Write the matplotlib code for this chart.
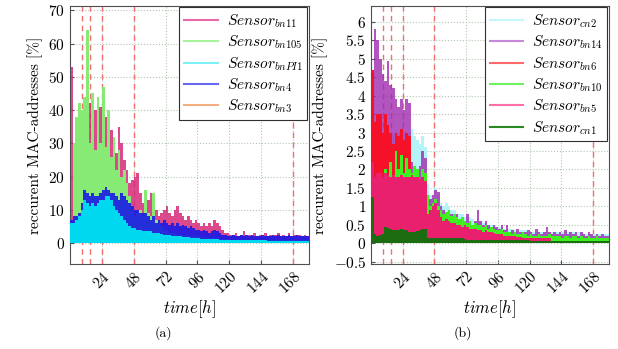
import numpy as np
import matplotlib
matplotlib.use("Agg")
import matplotlib.pyplot as plt
from matplotlib.lines import Line2D
from matplotlib.ticker import FuncFormatter

plt.rcParams['font.family'] = 'cmr10'
plt.rcParams['mathtext.fontset'] = 'cm'
plt.rcParams['axes.formatter.use_mathtext'] = True

# 2 hour bins, start hour of each bin
hours = np.arange(0, 180, 2)
events = [9, 15, 24, 48, 168]          # red dashed markers
xticks = [24, 48, 72, 96, 120, 144, 168]

# ---------------- panel (a) ----------------
bn11 = [53, 14, 10, 8, 12, 20, 38, 42, 40, 40,
        38, 41, 40, 38, 36, 34, 30, 27, 35, 30,
        25, 22, 18, 19, 20, 21, 15, 12, 14, 13,
        15, 12, 10, 8, 9, 10, 11, 9, 8, 10,
        11, 9, 8, 7, 8, 7, 6, 7, 6, 5,
        6, 5, 6, 5, 7, 6, 5, 4, 3, 3,
        2.5, 2.5, 3, 2, 2.5, 3.5, 2, 2.5, 2, 3,
        2, 2.5, 2, 3, 2, 2.5, 2, 2.5, 3, 2,
        2.5, 2, 3, 2, 2.5, 2, 2.5, 2, 2.5, 2]
bn105 = [0, 30, 38, 42, 40, 44, 64, 30, 45, 28,
         44, 30, 47, 29, 40, 26, 32, 22, 28, 20,
         22, 18, 14, 10, 8, 9, 10, 8, 16, 9,
         8, 15, 7, 6, 5, 4, 4, 3, 3, 3,
         2.5, 2.5, 2.5, 2, 2, 2, 2, 2, 1.8, 1.8,
         1.8, 1.5, 1.5, 1.5, 1.5, 1.5, 1.2, 1.2, 1.2, 1.2,
         1, 1, 1, 1, 1, 1, 1, 1, 1, 1,
         1, 1, 1, 1, 1, 1, 1, 1, 1, 1,
         1, 1, 1, 1, 1, 1, 1, 1, 1, 1]
bnPI1 = [6, 6, 7, 8, 10, 13, 12, 11, 12, 11,
         12, 13, 13, 14, 14, 13, 11, 10, 9, 8,
         7, 6, 5, 4.5, 4.5, 4, 4, 3.5, 3.5, 3.5,
         3.5, 3, 3, 3, 2.8, 2.5, 2.5, 2.3, 2.2, 2.2,
         2, 2, 1.8, 1.8, 1.7, 1.6, 1.5, 1.5, 1.4, 1.3,
         1.3, 1.2, 1.2, 1.2, 1.1, 1.1, 1.0, 1.0, 1.0, 1.0,
         0.9, 0.9, 0.9, 0.9, 0.9, 0.8, 0.8, 0.8, 0.8, 0.8,
         0.8, 0.8, 0.8, 0.8, 0.7, 0.7, 0.7, 0.7, 0.7, 0.7,
         0.7, 0.7, 0.7, 0.7, 0.7, 0.7, 0.7, 0.7, 0.7, 0.7]
bn4 = [7, 8, 8, 9, 12, 16, 15, 14, 15, 14,
       14, 15, 16, 17, 16, 15, 15, 14, 13, 15,
       14, 13, 12, 11, 10, 10, 9, 9, 9, 8,
       7, 8, 6, 7, 6, 7, 6, 5.5, 6, 5,
       6, 5, 5.5, 5, 4.5, 5, 4.5, 4, 4, 3.5,
       4, 3.5, 3, 3.5, 4, 3.5, 3, 2.5, 2.5, 2,
       2, 2.5, 2, 2.2, 2.5, 2, 2.3, 2, 2.5, 2,
       2.2, 2, 2.5, 2, 2.2, 2, 2.5, 2, 2.3, 2,
       2.2, 2, 2.5, 2, 2, 2.3, 2, 2.2, 2, 2]
bn3 = [3, 3, 4, 4, 5, 5, 5, 5, 5, 5,
       5, 5, 5, 5, 5, 4, 4, 4, 4, 3,
       3, 3, 3, 2.5, 2.5, 2.5, 2, 2, 2, 2,
       2, 2, 1.8, 1.8, 1.5, 1.5, 1.5, 1.5, 1.2, 1.2,
       1.2, 1.2, 1, 1, 1, 1, 1, 1, 1, 0.9,
       0.9, 0.9, 0.8, 0.8, 0.8, 0.8, 0.8, 0.7, 0.7, 0.7,
       0.7, 0.7, 0.7, 0.6, 0.6, 0.6, 0.6, 0.6, 0.6, 0.6,
       0.6, 0.6, 0.5, 0.5, 0.5, 0.5, 0.5, 0.5, 0.5, 0.5,
       0.5, 0.5, 0.5, 0.5, 0.5, 0.5, 0.5, 0.5, 0.5, 0.5]

# ---------------- panel (b) ----------------
cn2 = [2.5, 3.0, 3.0, 3.0, 3.0, 3.0, 3.0, 3.0, 3.0, 3.0,
       3.0, 3.0, 3.0, 3.0, 3.0, 3.1, 2.9, 2.8, 2.7, 2.9,
       2.6, 1.6, 1.3, 1.2, 1.5, 1.3, 1.1, 1.0, 1.1, 1.0,
       0.9, 0.9, 0.8, 0.8, 0.8, 0.7, 0.75, 0.7, 0.65, 0.6,
       0.6, 0.6, 0.55, 0.55, 0.5, 0.5, 0.5, 0.45, 0.45, 0.45,
       0.4, 0.4, 0.4, 0.4, 0.35, 0.35, 0.35, 0.35, 0.35, 0.3,
       0.3, 0.3, 0.3, 0.3, 0.3, 0.3, 0.3, 0.3, 0.3, 0.3,
       0.3, 0.3, 0.3, 0.3, 0.3, 0.3, 0.3, 0.3, 0.3, 0.3,
       0.25, 0.25, 0.25, 0.25, 0.25, 0.25, 0.25, 0.25, 0.25, 0.25]
bn14 = [3.0, 5.8, 5.5, 5.0, 4.6, 4.4, 4.95, 4.3, 4.2, 3.9,
        3.7, 3.9, 3.6, 3.9, 3.8, 2.2, 2.0, 1.9, 2.1, 2.5,
        2.3, 1.0, 1.2, 1.3, 1.45, 1.4, 1.0, 0.9, 0.8, 0.9,
        0.8, 0.7, 0.8, 0.6, 0.7, 0.6, 0.8, 0.6, 0.5, 0.6,
        0.9, 0.6, 0.5, 0.6, 0.5, 0.4, 0.5, 0.45, 0.4, 0.5,
        0.35, 0.5, 0.3, 0.35, 0.3, 0.4, 0.3, 0.25, 0.3, 0.35,
        0.3, 0.25, 0.4, 0.3, 0.25, 0.3, 0.45, 0.3, 0.25, 0.3,
        0.25, 0.3, 0.25, 0.35, 0.25, 0.3, 0.25, 0.3, 0.2, 0.3,
        0.25, 0.2, 0.3, 0.25, 0.2, 0.25, 0.2, 0.25, 0.2, 0.2]
bn6 = [4.7, 3.3, 3.5, 3.5, 3.0, 3.5, 3.2, 3.0, 2.7, 3.0,
       2.9, 3.1, 2.8, 3.0, 2.9]
bn10 = [1.0, 0.8, 0.9, 1.2, 1.5, 2.0, 1.6, 2.2, 1.8, 2.5,
        2.0, 2.4, 1.9, 2.3, 2.0, 1.9, 2.1, 2.0, 1.6, 2.0,
        1.9, 1.3, 1.0, 1.1, 1.2, 1.0, 0.9, 0.8, 0.85, 0.9,
        0.75, 0.8, 0.7, 0.65, 0.7, 0.6, 0.55, 0.6, 0.5, 0.55,
        0.5, 0.5, 0.45, 0.5, 0.4, 0.45, 0.4, 0.35, 0.35, 0.4,
        0.3, 0.3, 0.3, 0.25, 0.3, 0.25, 0.25, 0.3, 0.25, 0.2,
        0.25, 0.2, 0.2, 0.25, 0.2, 0.2, 0.2, 0.25, 0.2, 0.2,
        0.2, 0.2, 0.15, 0.2, 0.2, 0.15, 0.2, 0.2, 0.15, 0.2,
        0.15, 0.15, 0.2, 0.15, 0.15, 0.2, 0.15, 0.15, 0.15, 0.15]
bn5 = [2.2, 1.8, 1.9, 1.9, 1.8, 1.9, 1.85, 1.8, 1.85, 1.8,
       1.8, 1.85, 1.8, 1.8, 1.8, 1.85, 1.8, 1.8, 1.75, 1.8,
       1.7, 0.8, 0.9, 1.0, 1.1, 0.9, 0.7, 0.6, 0.65, 0.6,
       0.55, 0.55, 0.5, 0.5, 0.45, 0.5, 0.45, 0.4, 0.4, 0.4,
       0.35, 0.35, 0.3, 0.35, 0.3, 0.3, 0.28, 0.25, 0.25, 0.25,
       0.2, 0.2, 0.2, 0.2, 0.2, 0.18, 0.18, 0.15, 0.15, 0.15,
       0.15, 0.15, 0.15, 0.15, 0.15, 0.15, 0.15, 0.15]
cn1 = [1.25, 0.25, 0.2, 0.22, 0.25, 0.45, 0.42, 0.38, 0.36, 0.37,
       0.36, 0.38, 0.37, 0.36, 0.3, 0.32, 0.3, 0.33, 0.35, 0.4,
       0.38, 0.15, 0.15, 0.15, 0.15, 0.15, 0.15, 0.15, 0.15, 0.15,
       0.15, 0.15, 0.15, 0.15, 0.15, 0.12, 0.1, 0.1, 0.1, 0.1,
       0.1, 0.1, 0.1, 0.1, 0.1, 0.1, 0.1, 0.1, 0.1, 0.1,
       0.1, 0.1, 0.1, 0.1, 0.1, 0.1, 0.1, 0.1, 0.1, 0.1,
       0.06, 0.06, 0.05, 0.05, 0.05, 0.05, 0.05, 0.05, 0.05, 0.05,
       0.05, 0.05, 0.05, 0.05, 0.05, 0.05, 0.05, 0.05, 0.05, 0.05,
       0.05, 0.05, 0.05, 0.05, 0.05, 0.05, 0.05, 0.05, 0.05, 0.05]

# (label, values, bar colour, alpha, legend colour, zorder)
series_a = [
    (r'$Sensor_{bn11}$', bn11, '#d42a78', 0.85, '#e86aa8', 2),
    (r'$Sensor_{bn105}$', bn105, '#86ea74', 1.0, '#a8f29a', 3),
    (r'$Sensor_{bnPI1}$', bnPI1, '#00d8f0', 1.0, '#7cf0f4', 6),
    (r'$Sensor_{bn4}$', bn4, '#1a1ae6', 0.9, '#6868f0', 4),
    (r'$Sensor_{bn3}$', bn3, '#f0a060', 1.0, '#f4b080', 5),
]
series_b = [
    (r'$Sensor_{cn2}$', cn2, '#b4f4f8', 1.0, '#c4f8fa', 2),
    (r'$Sensor_{bn14}$', bn14, '#a02ab0', 0.8, '#c888d8', 3),
    (r'$Sensor_{bn6}$', bn6, '#f51228', 1.0, '#ff6a6a', 4),
    (r'$Sensor_{bn10}$', bn10, '#3ef020', 1.0, '#70f060', 5),
    (r'$Sensor_{bn5}$', bn5, '#e8206e', 1.0, '#ff70a8', 6),
    (r'$Sensor_{cn1}$', cn1, '#1c6c12', 1.0, '#2a8a22', 7),
]

fig = plt.figure(figsize=(6.18, 3.49), dpi=100)
ax_a = fig.add_axes([0.1133, 0.2436, 0.3867, 0.7393])
ax_b = fig.add_axes([0.6003, 0.2436, 0.3851, 0.7393])


def draw(ax, series, ylim, yticks):
    handles = []
    for label, vals, col, alpha, lcol, z in series:
        ax.bar(hours[:len(vals)], vals, width=2, align='edge', color=col,
               alpha=alpha, linewidth=0, zorder=z)
        handles.append(Line2D([], [], color=lcol, lw=1.5, label=label))
    for e in events:
        ax.axvline(e, color='#f07070', ls=(0, (4, 3)), lw=1.0, zorder=1)
    ax.set_xlim(0, 180)
    ax.set_ylim(*ylim)
    ax.set_xticks(xticks)
    ax.set_yticks(yticks)
    ax.yaxis.set_major_formatter(FuncFormatter(lambda v, p: f'${v:g}$'))
    ax.set_xticklabels([f'${t}$' for t in xticks], rotation=45, ha='right',
                       rotation_mode='anchor')
    ax.tick_params(direction='in', labelsize=11, length=3, color='#505050')
    ax.grid(True, ls=':', color='#b0c8b0', lw=0.8, zorder=0)
    ax.set_axisbelow(True)
    for s in ax.spines.values():
        s.set_color('#505050')
        s.set_linewidth(0.8)
    ax.set_xlabel(r'$time[h]$', fontsize=12, labelpad=1)
    ax.set_ylabel('reccurent MAC-addresses [%]', fontsize=11, labelpad=4)
    leg = ax.legend(handles=handles, loc='upper right', fontsize=11,
                    fancybox=False, framealpha=1, edgecolor='#303030',
                    borderaxespad=0.1, labelspacing=0.25, handlelength=2.2,
                    handletextpad=0.6, borderpad=0.3)
    leg.get_frame().set_linewidth(0.8)
    leg.set_zorder(10)


draw(ax_a, series_a, (-6.3, 71.3), np.arange(0, 71, 10))
draw(ax_b, series_b, (-0.56, 6.43), np.arange(-0.5, 6.01, 0.5))

fig.text(163 / 618, 1 - 333 / 349, '(a)', ha='center', va='center', fontsize=10)
fig.text(463 / 618, 1 - 333 / 349, '(b)', ha='center', va='center', fontsize=10)

fig.savefig('out.png', dpi=100)
